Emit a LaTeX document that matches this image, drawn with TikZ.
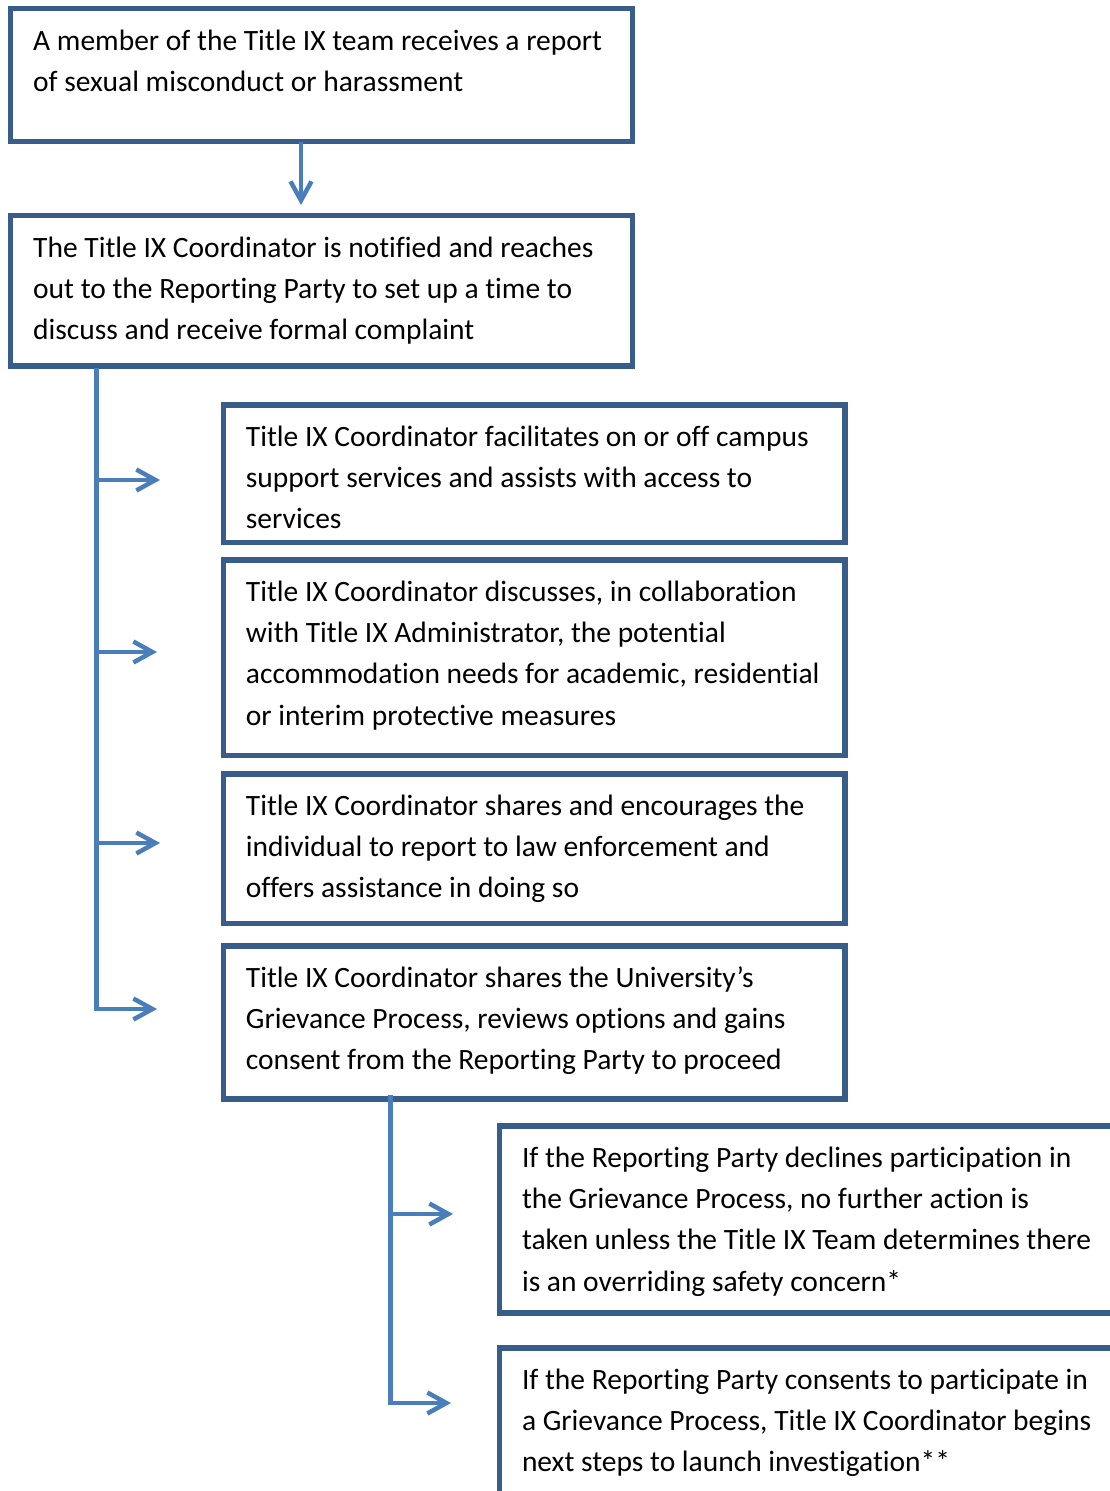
\documentclass[tikz,border=0pt]{standalone}
\usepackage{fontspec}
\setmainfont{Carlito}[Ligatures=NoCommon]
\usetikzlibrary{arrows.meta,calc}
\definecolor{boxline}{RGB}{56,93,138}
\definecolor{conline}{RGB}{74,126,187}
\begin{document}
\begin{tikzpicture}[x=1pt,y=-1pt,
  box/.style 2 args={draw=boxline, line width=5.5pt, rectangle, anchor=north west,
    inner sep=0pt, outer sep=0pt, minimum width=#1, minimum height=#2},
  txt/.style={anchor=north west, inner sep=0pt, align=left,
    font=\fontsize{29.5}{41.2}\selectfont},
  conn/.style={draw=conline, line width=4.5pt},
  arr/.style={conn, -{Straight Barb[length=19pt,width=21pt]}}
]
\useasboundingbox (0,0) rectangle (1110,1491);
\clip (0,0) rectangle (1110,1491);
\fill[white] (0,0) rectangle (1110,1491);

% boxes (line centre coordinates)
\node[box={621.8pt}{133pt}] (b1) at (10.7,8.5) {};
\node[box={621.8pt}{150.3pt}] (b2) at (10.7,215.7) {};
\node[box={621.6pt}{137.5pt}] (b3) at (223.4,405) {};
\node[box={621.6pt}{195.5pt}] (b4) at (223.4,560) {};
\node[box={621.6pt}{149.5pt}] (b5) at (223.4,774) {};
\node[box={621.6pt}{153pt}] (b6) at (223.4,946) {};
\node[box={640pt}{187pt}] (b7) at (499.5,1126) {};
\node[box={640pt}{210pt}] (b8) at (499.5,1348) {};

% texts
\tikzset{tpos/.style={shift={(22.3pt,-12.5pt)}}}
\node[txt] (t1) at ([tpos]b1.north west) {\strut A member of the Title IX team receives a report\\of sexual misconduct or harassment};
\node[txt] (t2) at ([tpos]b2.north west) {\strut The Title IX Coordinator is notified and reaches\\out to the Reporting Party to set up a time to\\discuss and receive formal complaint};
\node[txt] (t3) at ([tpos]b3.north west) {\strut Title IX Coordinator facilitates on or off campus\\support services and assists with access to\\services};
\node[txt] (t4) at ([tpos]b4.north west) {\strut Title IX Coordinator discusses, in collaboration\\with Title IX Administrator, the potential\\accommodation needs for academic, residential\\or interim protective measures};
\node[txt] (t5) at ([tpos]b5.north west) {\strut Title IX Coordinator shares and encourages the\\individual to report to law enforcement and\\offers assistance in doing so};
\node[txt] (t6) at ([tpos]b6.north west) {\strut Title IX Coordinator shares the University’s\\Grievance Process, reviews options and gains\\consent from the Reporting Party to proceed};
\node[txt] (t7) at ([tpos]b7.north west) {\strut If the Reporting Party declines participation in\\the Grievance Process, no further action is\\taken unless the Title IX Team determines there\\is an overriding safety concern*};
\node[txt] (t8) at ([tpos]b8.north west) {\strut If the Reporting Party consents to participate in\\a Grievance Process, Title IX Coordinator begins\\next steps to launch investigation**};

% connector end points
\coordinate (a1) at (160,480);
\coordinate (a2) at (157,652);
\coordinate (a3) at (160,843);
\coordinate (a4) at (157,1009);
\coordinate (a5) at (453,1214);
\coordinate (a6) at (451,1403);
\coordinate (s1) at (96.3,368);
\coordinate (s2) at (390.3,1095);
\coordinate (d1) at (301,144);
\coordinate (d2) at (301,205);

% connectors
\draw[arr] (d1 |- b1.south) -- (d2);
\draw[arr] (s1) |- (a4);
\draw[arr] (s1 |- a1) -- (a1);
\draw[arr] (s1 |- a2) -- (a2);
\draw[arr] (s1 |- a3) -- (a3);
\draw[arr] (s2) |- (a6);
\draw[arr] (s2 |- a5) -- (a5);
\end{tikzpicture}
\end{document}
